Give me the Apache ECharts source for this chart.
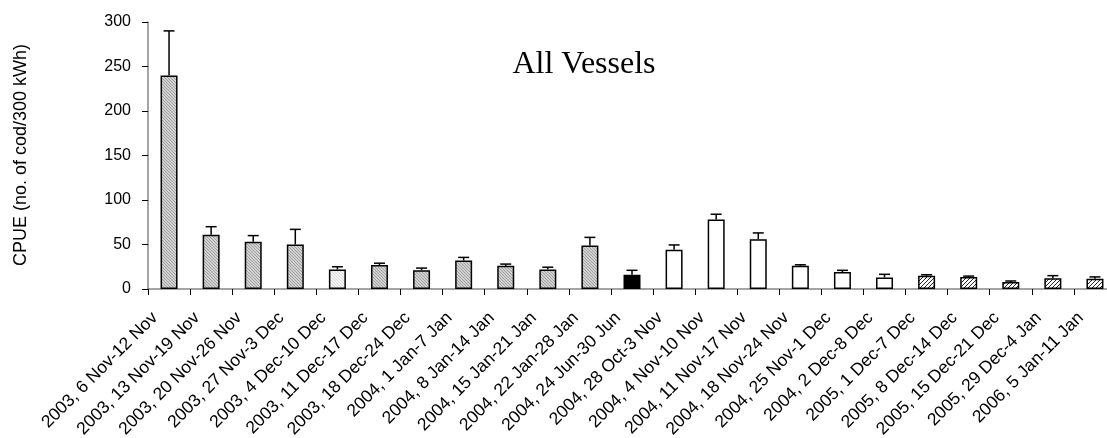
<!DOCTYPE html>
<html>
<head>
<meta charset="utf-8">
<script src="https://cdn.jsdelivr.net/npm/echarts@6/dist/echarts.min.js"></script>
<style>
  html, body { margin: 0; padding: 0; background: #fff; }
  #chart { width: 1107px; height: 438px; }
</style>
</head>
<body>
<div id="chart"></div>
<script>
// Weekly sampling periods (year, start-end dates)
var categories = [
  '2003, 6 Nov-12 Nov', '2003, 13 Nov-19 Nov', '2003, 20 Nov-26 Nov', '2003, 27 Nov-3 Dec',
  '2003, 4 Dec-10 Dec', '2003, 11 Dec-17 Dec', '2003, 18 Dec-24 Dec', '2004, 1 Jan-7 Jan',
  '2004, 8 Jan-14 Jan', '2004, 15 Jan-21 Jan', '2004, 22 Jan-28 Jan', '2004, 24 Jun-30 Jun',
  '2004, 28 Oct-3 Nov', '2004, 4 Nov-10 Nov', '2004, 11 Nov-17 Nov', '2004, 18 Nov-24 Nov',
  '2004, 25 Nov-1 Dec', '2004, 2 Dec-8 Dec', '2005, 1 Dec-7 Dec', '2005, 8 Dec-14 Dec',
  '2005, 15 Dec-21 Dec', '2005, 29 Dec-4 Jan', '2006, 5 Jan-11 Jan'
];

// Mean CPUE (no. of cod / 300 kWh) per period
var cpue = [240, 61, 53, 50, 22, 27, 21, 32, 26, 22, 49, 16, 44, 78, 56, 26, 19, 13, 15, 13.5, 8, 12, 11.6];

// Upper error (standard error) per period
var errUp = [50, 9, 7, 17, 3, 2, 2.5, 3.5, 2, 2.5, 9, 5, 5.5, 6, 7, 1.2, 2, 3.5, 1, 1, 1, 3, 2];

// Sampling group of each period
var group = [1, 1, 1, 1, 2, 1, 1, 1, 1, 1, 1, 3, 4, 4, 4, 4, 4, 4, 5, 5, 5, 5, 5];

// Y axis ticks
var yTicks = [0, 50, 100, 150, 200, 250, 300];

// Small repeating hatch tiles used as bar fills
function hatch(bg, fg, size, forward) {
  var c = document.createElement('canvas');
  c.width = size; c.height = size;
  var g = c.getContext('2d');
  g.fillStyle = bg; g.fillRect(0, 0, size, size);
  g.fillStyle = fg;
  for (var i = 0; i < size; i++) {
    var x = forward ? size - 1 - i : i;
    g.fillRect(x, i, 1, 1);
  }
  return { image: c, repeat: 'repeat' };
}

var fills = {
  1: hatch('#d0d0d0', '#a2a2a2', 3, false),
  2: hatch('#f5f5f5', '#dcdcdc', 3, false),
  3: '#000000',
  4: '#ffffff',
  5: hatch('#ffffff', '#222222', 4, true)
};

var barData = cpue.map(function (v, i) {
  return { value: v, itemStyle: { color: fills[group[i]] } };
});
var errData = cpue.map(function (v, i) { return [i, v, errUp[i]]; });

var chart = echarts.init(document.getElementById('chart'), null, { renderer: 'canvas' });

var axisGray = '#868686';
var font = 'Liberation Sans, Arial, sans-serif';

chart.setOption({
  animation: false,
  backgroundColor: '#ffffff',
  grid: { left: 148, top: 22, bottom: 149, right: -9, containLabel: false, outerBoundsMode: 'none' },
  xAxis: {
    type: 'category',
    data: categories,
    boundaryGap: true,
    axisLine: { lineStyle: { color: axisGray, width: 1.5 } },
    axisTick: { show: true, interval: 0, length: 6, lineStyle: { color: '#000', width: 1 } },
    axisLabel: {
      interval: 0, rotate: 45, margin: 12, padding: [0, 20, 0, 0],
      color: '#000', fontFamily: font, fontSize: 17.5, hideOverlap: false
    },
    splitLine: { show: false }
  },
  yAxis: {
    type: 'value',
    min: yTicks[0], max: yTicks[yTicks.length - 1], interval: yTicks[1] - yTicks[0],
    axisLine: { show: true, lineStyle: { color: axisGray, width: 1.5 } },
    axisTick: { show: true, length: 6, lineStyle: { color: '#000', width: 1 } },
    axisLabel: { margin: 17, color: '#000', fontFamily: font, fontSize: 16 },
    splitLine: { show: false }
  },
  graphic: [
    {
      type: 'text', x: 21, y: 155, rotation: Math.PI / 2,
      style: {
        text: 'CPUE (no. of cod/300 kWh)', fill: '#000',
        font: '18px Liberation Sans, Arial, sans-serif',
        align: 'center', verticalAlign: 'middle'
      }
    },
    {
      type: 'text', x: 584, y: 65,
      style: {
        text: 'All Vessels', fill: '#000',
        font: '32px Liberation Serif, Times New Roman, serif',
        align: 'center', verticalAlign: 'middle'
      }
    }
  ],
  series: [
    {
      type: 'bar',
      data: barData,
      barWidth: 17,
      itemStyle: { borderColor: '#000', borderWidth: 1.5 },
      z: 2
    },
    {
      type: 'custom',
      data: errData,
      z: 3,
      renderItem: function (params, api) {
        var x = api.value(0), v = api.value(1), e = api.value(2);
        var p0 = api.coord([x, v]);
        var p1 = api.coord([x, v + e]);
        var hw = 5.5;
        return {
          type: 'group',
          children: [
            { type: 'line', shape: { x1: p0[0], y1: p0[1], x2: p1[0], y2: p1[1] },
              style: { stroke: '#000', lineWidth: 1.5 } },
            { type: 'line', shape: { x1: p1[0] - hw, y1: p1[1], x2: p1[0] + hw, y2: p1[1] },
              style: { stroke: '#000', lineWidth: 1.5 } }
          ]
        };
      }
    }
  ]
});
</script>
</body>
</html>
